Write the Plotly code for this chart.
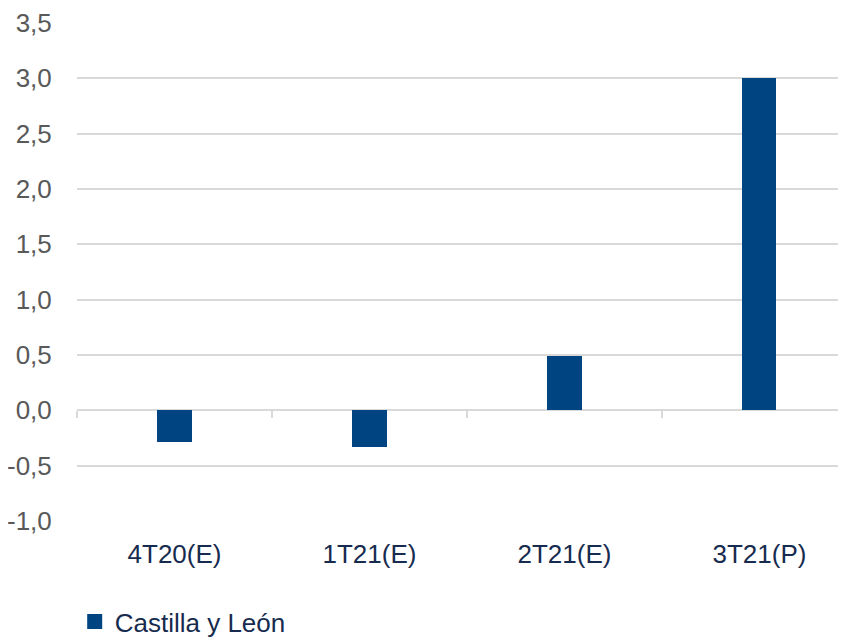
import plotly.graph_objects as go

categories = ["4T20(E)", "1T21(E)", "2T21(E)", "3T21(P)"]
values = [-0.29, -0.33, 0.49, 3.0]
series_name = "Castilla y León"
y_ticks = [-1.0, -0.5, 0.0, 0.5, 1.0, 1.5, 2.0, 2.5, 3.0, 3.5]
y_tick_labels = ["-1,0", "-0,5", "0,0", "0,5", "1,0", "1,5", "2,0", "2,5", "3,0", "3,5"]

FONT = "Liberation Sans, Arial, sans-serif"
NAVY = "#172b4f"
GRID = "#d9d9d9"
BAR = "#004481"

fig = go.Figure()
fig.add_trace(go.Bar(
    x=list(range(len(categories))), y=values, name=series_name,
    marker=dict(color=BAR, line=dict(width=0)),
    width=0.175, showlegend=False,
))
# legend entry (square swatch)
fig.add_trace(go.Scatter(
    x=[None], y=[None], mode="markers", name=series_name,
    marker=dict(symbol="square", size=15, color=BAR), showlegend=True,
))

# page body has an 8px margin; size the figure so it fills the 846x642 window
fig.update_layout(
    width=838, height=634,
    paper_bgcolor="white", plot_bgcolor="white",
    margin=dict(l=69, r=0, t=15, b=121, autoexpand=False),
    font=dict(family=FONT, size=26, color=NAVY),
    bargap=0,
    xaxis=dict(
        range=[-0.5, 3.444], automargin=False,
        tickmode="array", tickvals=list(range(len(categories))), ticktext=categories,
        showgrid=False, zeroline=False, showline=False,
        ticks="outside", ticklen=10, tickcolor="rgba(0,0,0,0)",
        tickfont=dict(family=FONT, size=26, color=NAVY),
    ),
    xaxis2=dict(
        overlaying="x", anchor="free", position=1/4.5,
        range=[-0.5, 3.444],
        tickmode="array", tickvals=[-0.5, 0.5, 1.5, 2.5, 3.5],
        showticklabels=False, showgrid=False, zeroline=False, showline=False,
        ticks="outside", ticklen=7, tickwidth=2, tickcolor=GRID,
    ),
    yaxis=dict(
        range=[-1.0, 3.5], automargin=False,
        tickmode="array", tickvals=y_ticks, ticktext=y_tick_labels,
        showgrid=True, gridcolor=GRID, gridwidth=2,
        zeroline=False, showline=False,
        ticks="outside", ticklen=19, tickcolor="rgba(0,0,0,0)",
        tickfont=dict(family=FONT, size=26, color="#595959"),
    ),
    legend=dict(
        orientation="h", x=-0.003, xanchor="left", y=-0.155, yanchor="top",
        font=dict(family=FONT, size=26, color=NAVY),
        itemwidth=30, tracegroupgap=0, bgcolor="rgba(0,0,0,0)",
    ),
)
# invisible trace to make xaxis2 render
fig.add_trace(go.Scatter(x=[0], y=[0], xaxis="x2", mode="markers",
                         marker=dict(opacity=0), showlegend=False, hoverinfo="skip"))

fig.write_html("out.html")
